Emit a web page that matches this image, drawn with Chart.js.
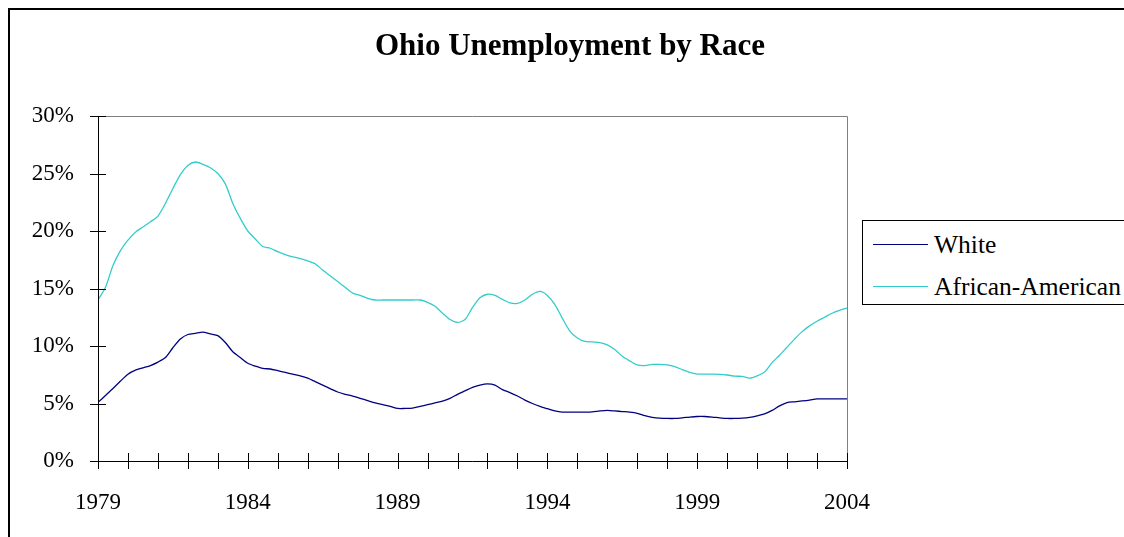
<!DOCTYPE html>
<html>
<head>
<meta charset="utf-8">
<script src="https://cdn.jsdelivr.net/npm/chart.js@4"></script>
<style>
  html, body { margin: 0; padding: 0; background: #fff; }
  #wrap { position: relative; width: 1124px; height: 537px; overflow: hidden; }
  #frame { position: absolute; left: 8px; top: 8px; width: 1200px; height: 600px;
           border-top: 2px solid #000; border-left: 2px solid #000; }
  #titulo { position: absolute; left: 0; width: 1140px; top: 27px; text-align: center;
            font: bold 31px "Liberation Serif", "Times New Roman", serif; color: #000; }
  #legenda { position: absolute; left: 862px; top: 220px; width: 300px; height: 83px;
             border: 1px solid #000; background: #fff;
             font: 25.5px "Liberation Serif", "Times New Roman", serif; color: #000; }
  .item { position: absolute; left: 10px; height: 30px; }
  .item i { position: absolute; left: 0; top: 14px; width: 55px; height: 1px; }
  .item span { position: absolute; left: 61px; top: 0; white-space: nowrap; line-height: 30px; }
  canvas { position: absolute; left: 0; top: 0; }
</style>
</head>
<body>
<div id="wrap">
  <div id="frame"></div>
  <canvas id="grafico" width="1124" height="537"></canvas>
  <div id="titulo">Ohio Unemployment by Race</div>
  <div id="legenda"></div>
</div>
<script>
// trimestres de 1979 a 2004 (eixo x)
const trimestres = Array.from({ length: 101 }, (_, i) => 1979 + i / 4);

// rótulos do eixo x
const rotulosAno = ['1979', '1984', '1989', '1994', '1999', '2004'];

// desemprego (%), trimestral
const brancos = [
  5.1, 5.7, 6.3, 6.95, 7.55, 7.9, 8.1, 8.3, 8.6, 9.0,
  9.85, 10.6, 11.0, 11.1, 11.2, 11.05, 10.9, 10.3, 9.5, 9.0,
  8.5, 8.25, 8.05, 8.0, 7.85, 7.7, 7.55, 7.4, 7.2, 6.9,
  6.6, 6.3, 6.0, 5.8, 5.65, 5.45, 5.25, 5.05, 4.9, 4.75,
  4.57, 4.57, 4.6, 4.75, 4.9, 5.05, 5.2, 5.45, 5.8, 6.1,
  6.4, 6.6, 6.7, 6.6, 6.2, 5.95, 5.65, 5.3, 5.0, 4.75,
  4.55, 4.35, 4.25, 4.25, 4.25, 4.25, 4.27, 4.35, 4.4, 4.35,
  4.3, 4.25, 4.15, 3.95, 3.8, 3.72, 3.7, 3.7, 3.75, 3.82,
  3.87, 3.87, 3.82, 3.75, 3.7, 3.7, 3.73, 3.8, 3.93, 4.1,
  4.4, 4.8, 5.08, 5.15, 5.22, 5.3, 5.4, 5.4, 5.4, 5.4,
  5.4
];

const afroAmericanos = [
  14.0, 15.1, 17.0, 18.3, 19.2, 19.9, 20.35, 20.8, 21.3, 22.4,
  23.7, 24.9, 25.7, 26.0, 25.8, 25.5, 25.0, 24.1, 22.4, 21.1,
  20.0, 19.3, 18.65, 18.5, 18.2, 17.95, 17.75, 17.6, 17.4, 17.15,
  16.6, 16.1, 15.6, 15.1, 14.6, 14.4, 14.15, 14.0, 14.0, 14.0,
  14.0, 14.0, 14.0, 14.0, 13.8, 13.45, 12.85, 12.3, 12.05, 12.3,
  13.35, 14.2, 14.5, 14.4, 14.05, 13.75, 13.7, 14.0, 14.5, 14.75,
  14.4, 13.6, 12.4, 11.3, 10.7, 10.4, 10.35, 10.3, 10.1, 9.7,
  9.1, 8.7, 8.35, 8.3, 8.4, 8.4, 8.35, 8.2, 7.95, 7.7,
  7.56, 7.55, 7.55, 7.54, 7.48, 7.38, 7.35, 7.2, 7.4, 7.75,
  8.55, 9.2, 9.9, 10.6, 11.25, 11.75, 12.15, 12.5, 12.85, 13.1,
  13.3
];

const series = [
  { nome: 'White',            dados: brancos,        cor: '#000080' },
  { nome: 'African-American', dados: afroAmericanos, cor: '#33CCCC' }
];

const fonteEixo = { family: '"Liberation Serif", "Times New Roman", serif', size: 23 };

// legenda em HTML
const legenda = document.getElementById('legenda');
series.forEach((s, i) => {
  const div = document.createElement('div');
  div.className = 'item';
  div.style.top = (9 + i * 42) + 'px';
  div.innerHTML = `<i style="background:${s.cor}"></i><span>${s.nome}</span>`;
  legenda.appendChild(div);
});

// moldura da área do gráfico + marcas cruzadas nos eixos
const moldura = {
  id: 'moldura',
  afterDraw(chart) {
    const { ctx, chartArea: a, scales: { x, y } } = chart;
    ctx.save();
    ctx.lineWidth = 1;
    ctx.strokeStyle = '#808080';
    ctx.beginPath();
    ctx.moveTo(a.left, a.top + 0.5);
    ctx.lineTo(a.right + 0.5, a.top + 0.5);
    ctx.lineTo(a.right + 0.5, a.bottom);
    ctx.stroke();

    ctx.strokeStyle = '#000';
    ctx.beginPath();
    ctx.moveTo(a.left + 0.5, a.top);
    ctx.lineTo(a.left + 0.5, a.bottom + 0.5);
    ctx.lineTo(a.right, a.bottom + 0.5);
    // marcas do eixo y
    for (let v = y.min; v <= y.max; v += 5) {
      const py = Math.round(y.getPixelForValue(v)) + 0.5;
      ctx.moveTo(a.left - 8, py);
      ctx.lineTo(a.left + 8, py);
    }
    // marcas do eixo x (uma por ano)
    for (let ano = x.min; ano <= x.max; ano++) {
      const px = Math.round(x.getPixelForValue(ano)) + 0.5;
      ctx.moveTo(px, a.bottom - 8);
      ctx.lineTo(px, a.bottom + 8);
    }
    ctx.stroke();
    ctx.restore();
  }
};

new Chart(document.getElementById('grafico'), {
  type: 'line',
  data: {
    datasets: series.map(s => ({
      label: s.nome,
      data: s.dados.map((v, i) => ({ x: trimestres[i], y: v })),
      borderColor: s.cor,
      borderWidth: 1.3,
      pointRadius: 0,
      tension: 0.25,
      fill: false
    }))
  },
  options: {
    responsive: false,
    animation: false,
    devicePixelRatio: 1,
    layout: { padding: { left: 0, top: 116, right: 277, bottom: 0 } },
    plugins: {
      legend: { display: false },
      title: { display: false },
      tooltip: { enabled: false }
    },
    scales: {
      x: {
        type: 'linear',
        min: 1979,
        max: 2004,
        grid: { display: false, drawTicks: false },
        border: { display: false },
        ticks: {
          stepSize: 1,
          autoSkip: false,
          maxRotation: 0,
          padding: 28,
          color: '#000',
          font: fonteEixo,
          callback: v => rotulosAno.includes(String(v)) ? String(v) : ''
        },
        afterFit: s => { s.height = 76; }
      },
      y: {
        min: 0,
        max: 30,
        grid: { display: false, drawTicks: false },
        border: { display: false },
        ticks: {
          stepSize: 5,
          padding: 24,
          color: '#000',
          font: fonteEixo,
          callback: v => v + '%'
        },
        afterFit: s => { s.width = 98; }
      }
    }
  },
  plugins: [moldura]
});
</script>
</body>
</html>
